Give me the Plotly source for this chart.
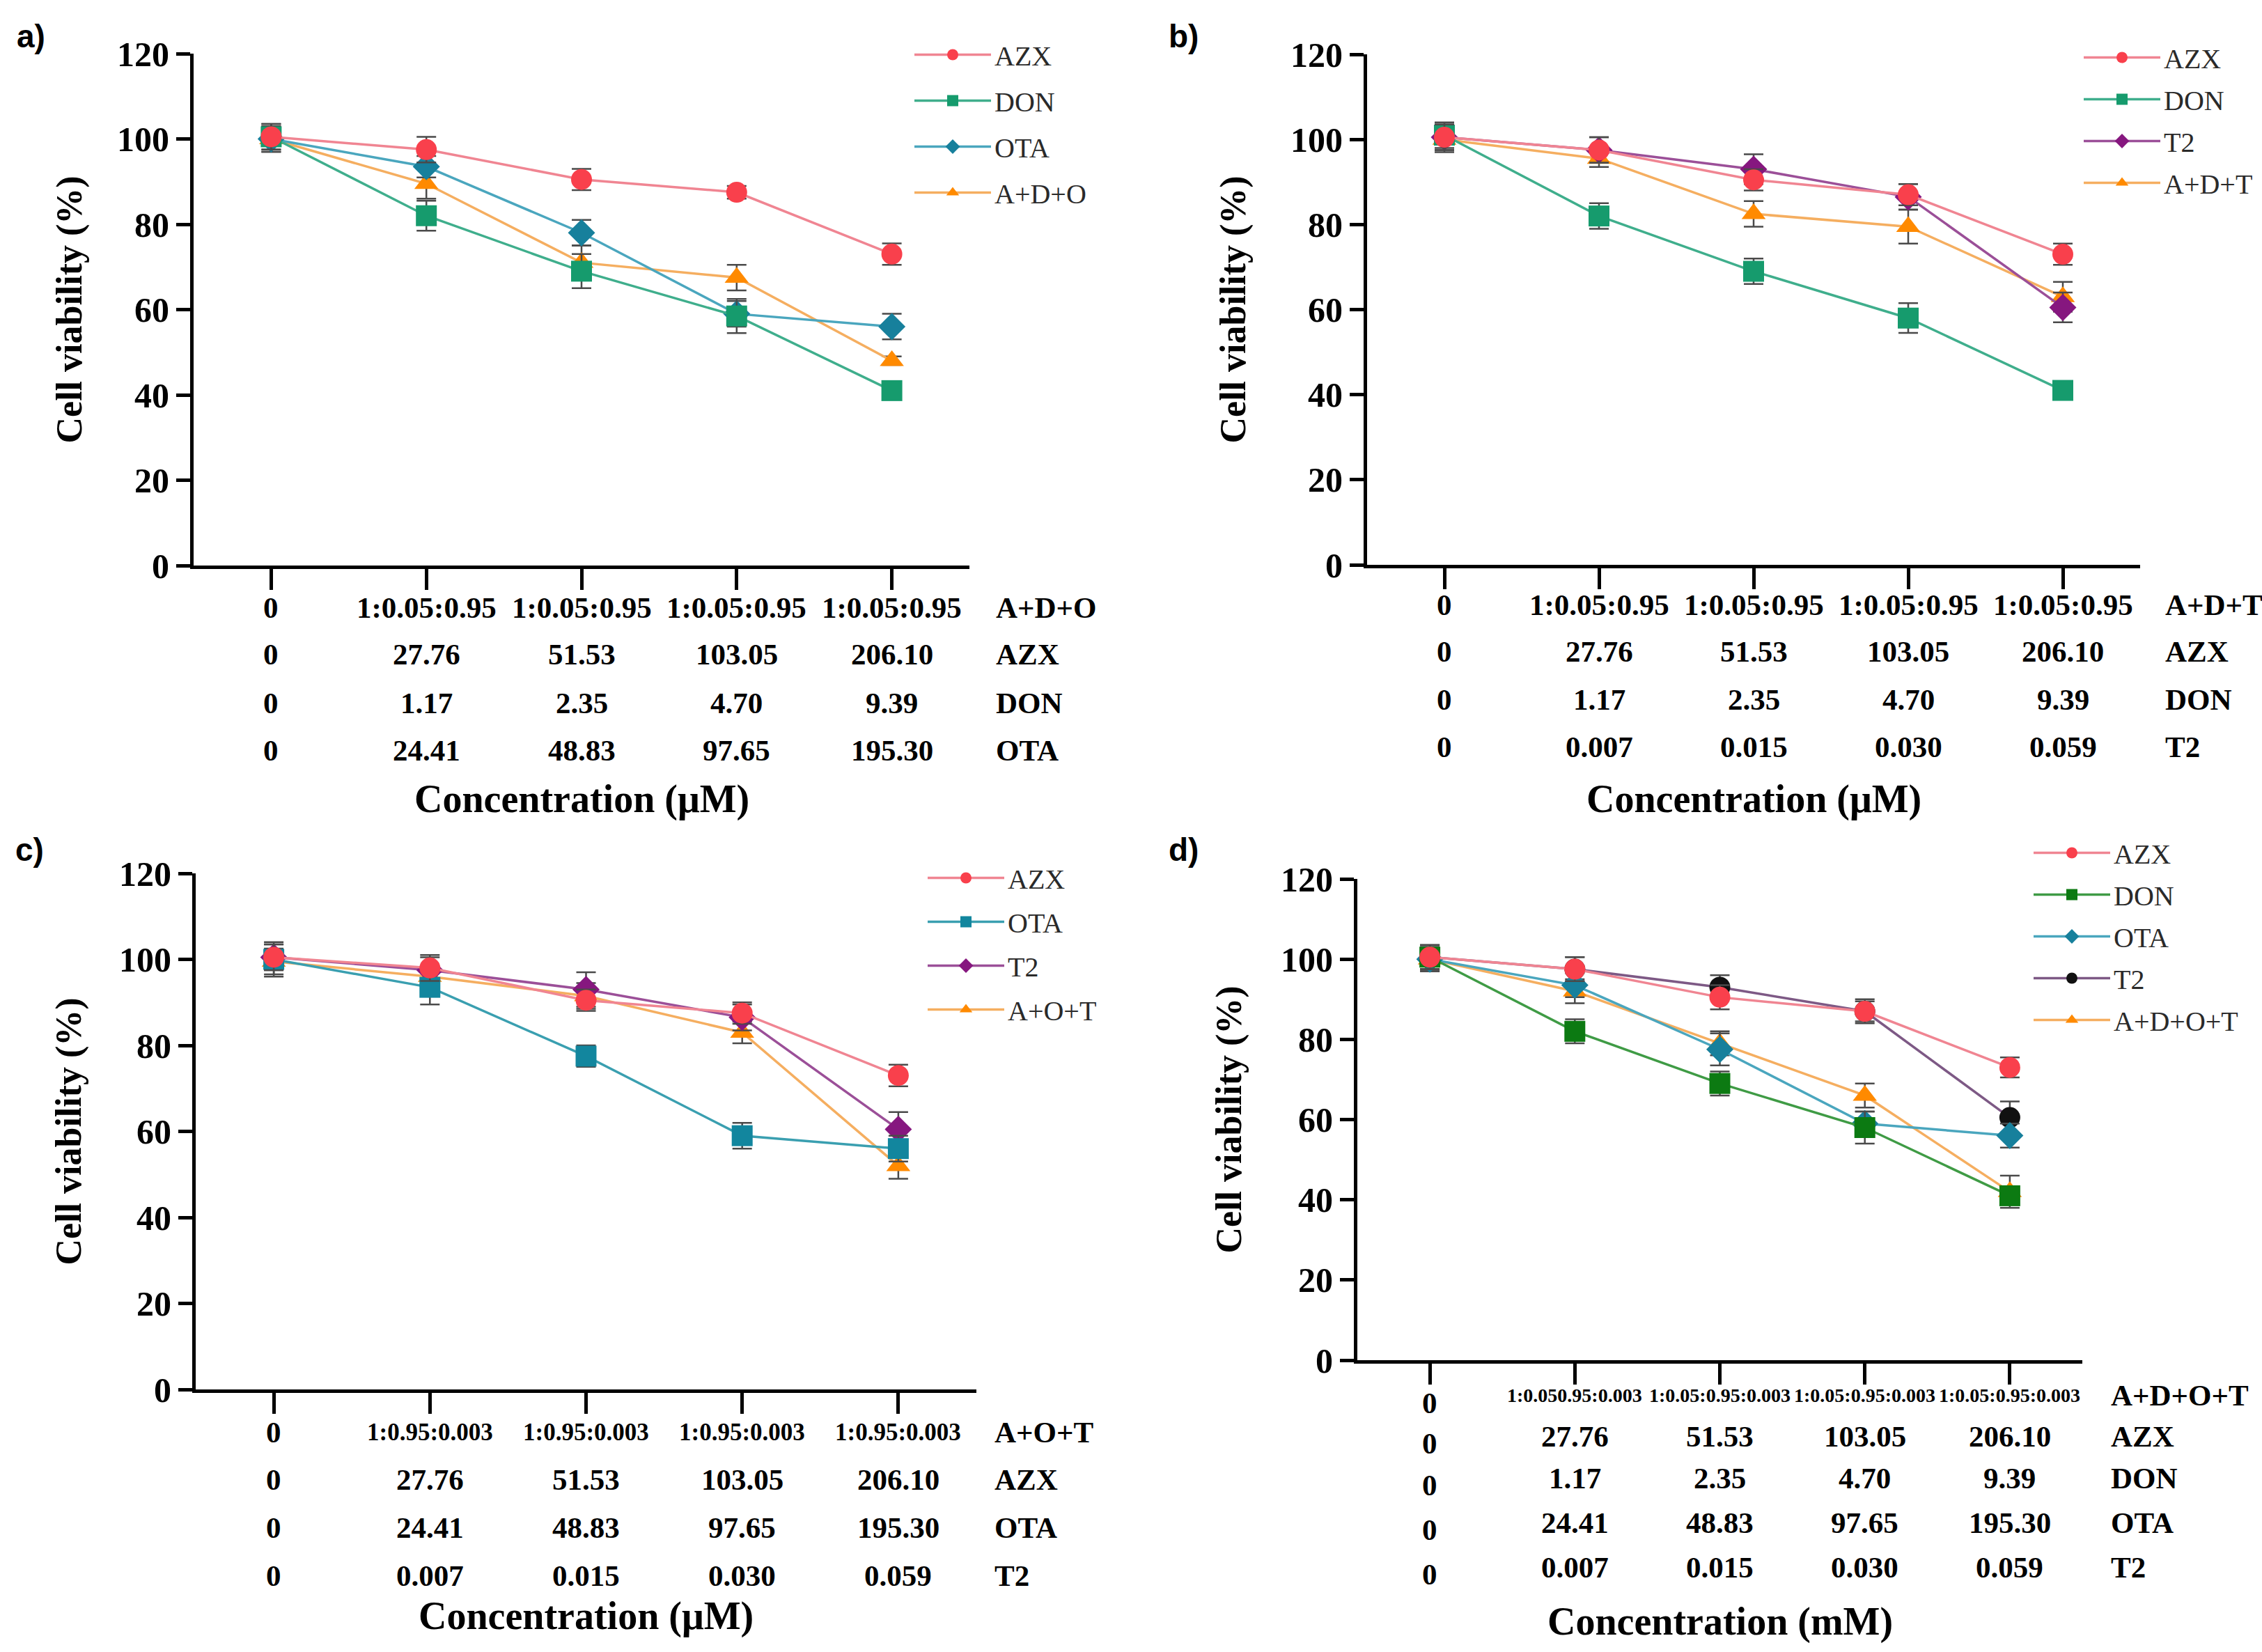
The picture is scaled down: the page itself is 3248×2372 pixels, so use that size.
import plotly.graph_objects as go

W, H = 3248, 2372
SERIF = 'Liberation Serif'

conc_idx = [0, 1, 2, 3, 4]

# ── data: panel a (AZX + DON + OTA) ───────────────────────────────────────────
a_names = ['AZX', 'DON', 'OTA', 'A+D+O']
a_mean = [[100.5, 97.5, 90.5, 87.5, 73.0],
          [100.5, 82.0, 69.0, 58.5, 41.0],
          [100.0, 93.5, 78.0, 59.0, 56.0],
          [100.0, 89.5, 71.0, 67.5, 48.0]]
a_sd = [[3.0, 3.0, 2.5, 1.5, 2.5],
        [3.0, 3.5, 4.0, 4.0, 2.0],
        [3.0, 2.5, 3.0, 3.0, 3.0],
        [3.0, 3.5, 4.0, 3.0, 1.0]]
a_rows = ['A+D+O', 'AZX', 'DON', 'OTA']
a_table = [['0', '1:0.05:0.95', '1:0.05:0.95', '1:0.05:0.95', '1:0.05:0.95'],
           ['0', '27.76', '51.53', '103.05', '206.10'],
           ['0', '1.17', '2.35', '4.70', '9.39'],
           ['0', '24.41', '48.83', '97.65', '195.30']]

# ── data: panel b (AZX + DON + T2) ────────────────────────────────────────────
b_names = ['AZX', 'DON', 'T2', 'A+D+T']
b_mean = [[100.5, 97.5, 90.5, 87.0, 73.0],
          [101.0, 82.0, 69.0, 58.0, 41.0],
          [100.5, 97.5, 93.0, 86.5, 60.5],
          [100.0, 95.5, 82.5, 79.5, 63.0]]
b_sd = [[3.0, 3.0, 2.5, 2.5, 2.5],
        [3.0, 3.0, 3.0, 3.5, 2.0],
        [3.0, 3.0, 3.5, 3.0, 3.5],
        [3.0, 2.0, 3.0, 4.0, 3.5]]
b_rows = ['A+D+T', 'AZX', 'DON', 'T2']
b_table = [['0', '1:0.05:0.95', '1:0.05:0.95', '1:0.05:0.95', '1:0.05:0.95'],
           ['0', '27.76', '51.53', '103.05', '206.10'],
           ['0', '1.17', '2.35', '4.70', '9.39'],
           ['0', '0.007', '0.015', '0.030', '0.059']]

# ── data: panel c (AZX + OTA + T2) ────────────────────────────────────────────
c_names = ['AZX', 'OTA', 'T2', 'A+O+T']
c_mean = [[100.5, 98.0, 90.5, 87.5, 73.0],
          [100.0, 93.5, 77.5, 59.0, 56.0],
          [100.5, 97.5, 93.0, 86.5, 60.5],
          [99.5, 96.0, 91.5, 83.0, 52.0]]
c_sd = [[3.0, 3.0, 2.5, 2.5, 2.5],
        [4.0, 4.0, 2.5, 3.0, 3.0],
        [3.0, 3.0, 4.0, 3.0, 4.0],
        [3.0, 2.0, 3.0, 2.5, 3.0]]
c_rows = ['A+O+T', 'AZX', 'OTA', 'T2']
c_table = [['0', '1:0.95:0.003', '1:0.95:0.003', '1:0.95:0.003', '1:0.95:0.003'],
           ['0', '27.76', '51.53', '103.05', '206.10'],
           ['0', '24.41', '48.83', '97.65', '195.30'],
           ['0', '0.007', '0.015', '0.030', '0.059']]

# ── data: panel d (AZX + DON + OTA + T2) ──────────────────────────────────────
d_names = ['AZX', 'DON', 'OTA', 'T2', 'A+D+O+T']
d_mean = [[100.5, 97.5, 90.5, 87.0, 73.0],
          [100.5, 82.0, 69.0, 58.0, 41.0],
          [100.0, 93.5, 77.5, 59.0, 56.0],
          [100.5, 97.5, 93.0, 87.0, 60.5],
          [100.0, 92.0, 79.0, 66.0, 42.0]]
d_sd = [[3.0, 3.0, 3.0, 2.5, 2.5],
        [3.0, 3.0, 3.0, 4.0, 2.0],
        [3.0, 3.0, 4.0, 3.0, 3.0],
        [3.0, 3.0, 3.0, 3.0, 4.0],
        [3.0, 3.0, 3.0, 3.0, 4.0]]
d_rows = ['A+D+O+T', 'AZX', 'DON', 'OTA', 'T2']
d_table = [['0', '1:0.050.95:0.003', '1:0.05:0.95:0.003', '1:0.05:0.95:0.003', '1:0.05:0.95:0.003'],
           ['0', '27.76', '51.53', '103.05', '206.10'],
           ['0', '1.17', '2.35', '4.70', '9.39'],
           ['0', '24.41', '48.83', '97.65', '195.30'],
           ['0', '0.007', '0.015', '0.030', '0.059']]

# ── styles: (symbol, marker colour, line colour) ──────────────────────────────
STYLE = {
    'AZX': ('circle', '#F9404C', '#F08592'),
    'DON': ('square', '#169B6D', '#3FAE8C'),
    'OTA': ('diamond', '#17809C', '#4AA6BE'),
    'T2':  ('diamond', '#86177F', '#9B4F98'),
    'mix': ('triangle-up', '#FF8A00', '#F5AE60'),
}

# pixel layout per panel (reference image coords)
PANELS = [
    dict(tag='a)', names=a_names, mean=a_mean, sd=a_sd, rows=a_rows, table=a_table,
         unit='Concentration (μM)', xpx=(278, 1392), ypx=(77, 812),
         row_y=[872, 940, 1009, 1077], unit_y=1147, row_lab_x=1428, tag_xy=(22, 52),
         ytitle_x=99, leg_xy=(1308, 46), leg_gap=11, first_size=43, zero_dy=0, over={}),
    dict(tag='b)', names=b_names, mean=b_mean, sd=b_sd, rows=b_rows, table=b_table,
         unit='Concentration (μM)', xpx=(1963, 3073), ypx=(78, 811),
         row_y=[868, 936, 1004, 1072], unit_y=1147, row_lab_x=3107, tag_xy=(1676, 52),
         ytitle_x=1770, leg_xy=(2987, 50), leg_gap=5, first_size=43, zero_dy=0, over={}),
    dict(tag='c)', names=c_names, mean=c_mean, sd=c_sd, rows=c_rows, table=c_table,
         unit='Concentration (μM)', xpx=(281, 1402), ypx=(1254, 1995),
         row_y=[2056, 2124, 2193, 2262], unit_y=2320, row_lab_x=1426, tag_xy=(20, 1220),
         ytitle_x=99, leg_xy=(1327, 1228), leg_gap=8, first_size=35, zero_dy=0,
         over={'OTA': ('square', '#12869E', '#3A9FB0')}),
    dict(tag='d)', names=d_names, mean=d_mean, sd=d_sd, rows=d_rows, table=d_table,
         unit='Concentration (mM)', xpx=(1949, 2990), ypx=(1262, 1953),
         row_y=[2004, 2062, 2122, 2186, 2250], unit_y=2328, row_lab_x=3029, tag_xy=(1676, 1220),
         ytitle_x=1764, leg_xy=(2915, 1192), leg_gap=5, first_size=28, zero_dy=10,
         over={'DON': ('square', '#0C7A12', '#3F9B45'),
               'T2': ('circle', '#111111', '#7D5985')}),
]

fig = go.Figure()
annotations = []
axis_font = dict(family=SERIF, size=50, color='black', weight='bold')
TABLE_SIZE = 43

for i, p in enumerate(PANELS):
    n = '' if i == 0 else str(i + 1)
    xa, ya = 'x' + n, 'y' + n
    leg = 'legend' + n
    k = len(p['names'])
    # draw mixture first so single toxins sit on top, AZX last
    for j in reversed(range(k)):
        name = p['names'][j]
        key = name if name in STYLE else 'mix'
        sym, mcol, lcol = p['over'].get(name, STYLE[key])
        fig.add_trace(go.Scatter(
            x=conc_idx, y=p['mean'][j], name=name, mode='lines+markers',
            xaxis=xa, yaxis=ya, legend=leg, legendgroup=f'{i}-{name}', legendrank=j + 1,
            line=dict(color=lcol, width=3.5),
            marker=dict(symbol=sym, size=30, color=mcol, line=dict(width=0)),
            error_y=dict(type='data', array=p['sd'][j], color='#4a4a4a',
                         thickness=2.5, width=14),
        ))

    x0, x1 = p['xpx']
    y0, y1 = p['ypx']
    fig.update_layout({
        'xaxis' + n: dict(domain=[x0 / W, x1 / W], range=[-0.5, 4.5], anchor=ya,
                          showgrid=False, zeroline=False, showline=True, linecolor='black',
                          linewidth=5, ticks='outside', ticklen=30, tickwidth=5,
                          tickcolor='black', tickvals=conc_idx, showticklabels=False),
        'yaxis' + n: dict(domain=[1 - y1 / H, 1 - y0 / H], range=[0, 120], anchor=xa,
                          dtick=20, showgrid=False, zeroline=False, showline=True,
                          linecolor='black', linewidth=5, ticks='outside', ticklen=20,
                          tickwidth=5, tickcolor='black', tickfont=axis_font),
        leg: dict(x=p['leg_xy'][0] / W, y=1 - p['leg_xy'][1] / H, xanchor='left',
                  yanchor='top', bgcolor='rgba(0,0,0,0)', itemwidth=110,
                  tracegroupgap=p['leg_gap'], itemsizing='trace',
                  font=dict(family=SERIF, size=40, color='#2a2a2a')),
    })

    # concentration table under the axis
    for r, row in enumerate(p['table']):
        yr = p['row_y'][r]
        for c, txt in enumerate(row):
            size = p['first_size'] if (r == 0 and c > 0) else TABLE_SIZE
            dy = p['zero_dy'] if c == 0 else 0
            annotations.append(dict(x=conc_idx[c], xref=xa, y=1 - (yr + dy) / H, yref='paper',
                                    text=txt, showarrow=False, xanchor='center', yanchor='middle',
                                    font=dict(family=SERIF, size=size, color='black', weight='bold')))
        annotations.append(dict(x=p['row_lab_x'] / W, xref='paper', y=1 - yr / H, yref='paper',
                                text=p['rows'][r], showarrow=False, xanchor='left', yanchor='middle',
                                font=dict(family=SERIF, size=TABLE_SIZE, color='black', weight='bold')))

    annotations.append(dict(x=2, xref=xa, y=1 - p['unit_y'] / H, yref='paper', text=p['unit'],
                            showarrow=False, xanchor='center', yanchor='middle',
                            font=dict(family=SERIF, size=56, color='black', weight='bold')))
    annotations.append(dict(x=p['ytitle_x'] / W, xref='paper', y=1 - (y0 + y1) / 2 / H, yref='paper',
                            text='Cell viability (%)', textangle=-90, showarrow=False,
                            xanchor='center', yanchor='middle',
                            font=dict(family=SERIF, size=52, color='black', weight='bold')))
    annotations.append(dict(x=p['tag_xy'][0] / W, xref='paper', y=1 - p['tag_xy'][1] / H, yref='paper',
                            text=p['tag'], showarrow=False, xanchor='left', yanchor='middle',
                            font=dict(family='Liberation Sans', size=46, color='black', weight='bold')))

fig.update_layout(
    width=W, height=H,
    margin=dict(l=0, r=0, t=0, b=0, autoexpand=False),
    paper_bgcolor='white', plot_bgcolor='white',
    annotations=annotations,
)
fig.write_html('out.html', config={'displayModeBar': False},
               post_script="document.body.style.margin='0';")
